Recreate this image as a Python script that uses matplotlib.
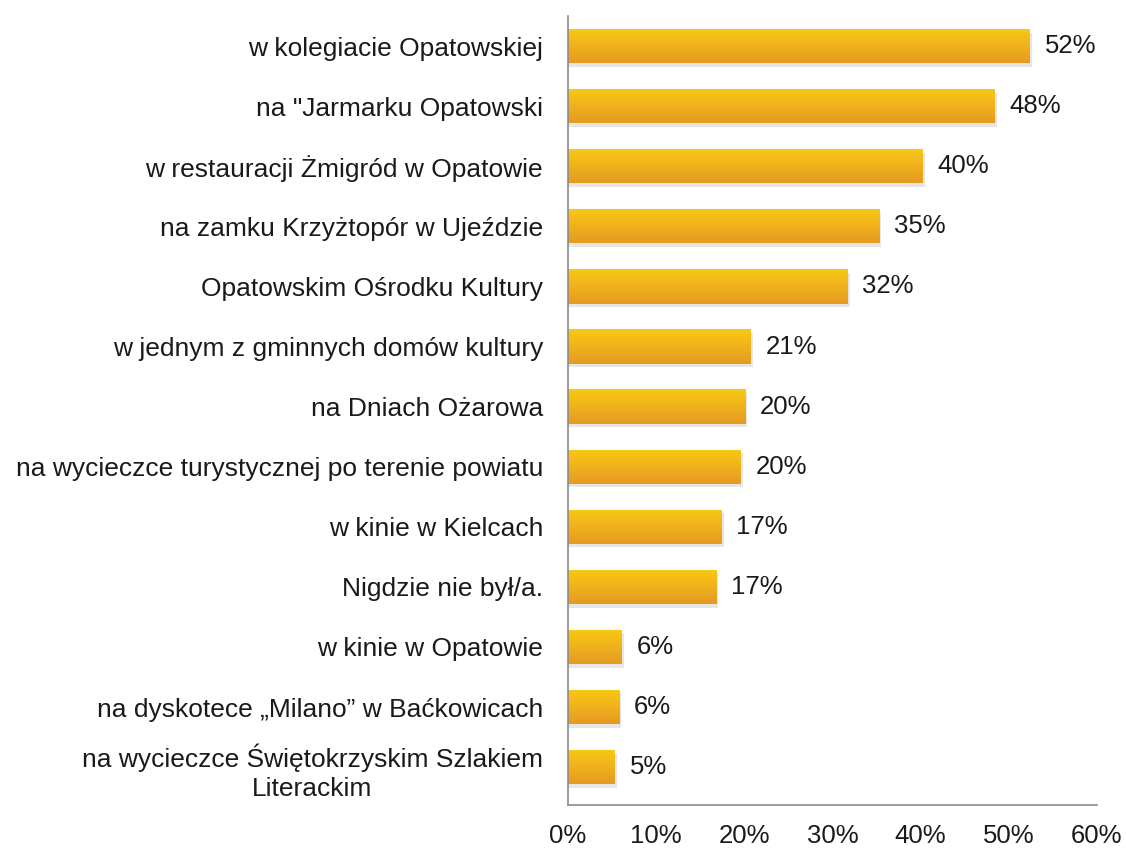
import matplotlib
matplotlib.use("Agg")
import matplotlib.pyplot as plt
import numpy as np
from matplotlib.colors import LinearSegmentedColormap
from matplotlib.patches import Rectangle

plt.rcParams['font.family'] = ['Liberation Sans', 'DejaVu Sans']

# data
places = [
    "w kolegiacie Opatowskiej",
    "na \"Jarmarku Opatowski",
    "w restauracji Żmigród w Opatowie",
    "na zamku Krzyżtopór w Ujeździe",
    "Opatowskim Ośrodku Kultury",
    "w jednym z gminnych domów kultury",
    "na Dniach Ożarowa",
    "na wycieczce turystycznej po terenie powiatu",
    "w kinie w Kielcach",
    "Nigdzie nie był/a.",
    "w kinie w Opatowie",
    "na dyskotece \u201eMilano\u201d w Baćkowicach",
    "na wycieczce Świętokrzyskim Szlakiem\nLiterackim",
]
shares = [52.4, 48.4, 40.2, 35.3, 31.7, 20.7, 20.1, 19.6, 17.4, 16.8, 6.1, 5.8, 5.3]
labels = ["52%", "48%", "40%", "35%", "32%", "21%", "20%", "20%", "17%", "17%", "6%", "6%", "5%"]
ticks = [0, 10, 20, 30, 40, 50, 60]

fig = plt.figure(figsize=(11.26, 8.52), dpi=100)
ax = fig.add_axes([0.5044, 0.0552, 0.4698, 0.926])

grad = LinearSegmentedColormap.from_list("bar", ["#f9c813", "#f0b21c", "#e59a22"])
g = np.linspace(0, 1, 64).reshape(-1, 1)
h = 0.57

for i, (v, lab) in enumerate(zip(shares, labels)):
    # soft shadow
    ax.add_patch(Rectangle((0, i - h / 2 + 0.06), v + 0.25, h, facecolor="#cfcfcf",
                           edgecolor="none", alpha=0.5, zorder=1))
    im = ax.imshow(g, cmap=grad, aspect="auto", extent=(0, v, i + h / 2, i - h / 2),
                   zorder=2, interpolation="bilinear")
    r = Rectangle((0, i - h / 2), v, h, facecolor="none", edgecolor="none")
    ax.add_patch(r)
    im.set_clip_path(r)
    ax.text(v + 1.7, i, lab, va="center", ha="left", fontsize=18.5, color="#1a1a1a")

ax.set_xlim(0, 60)
ax.set_ylim(12.63, -0.5)
ax.set_yticks(range(len(places)))
ax.set_yticklabels(places, fontsize=19, color="#1a1a1a", multialignment="center",
                   linespacing=1.25)
ax.set_xticks(ticks)
ax.set_xticklabels([f"{t}%" for t in ticks], fontsize=18.5, color="#1a1a1a")
ax.tick_params(axis="both", length=0)
ax.tick_params(axis="y", pad=18)
ax.tick_params(axis="x", pad=14)

for s in ["top", "right"]:
    ax.spines[s].set_visible(False)
for s in ["left", "bottom"]:
    ax.spines[s].set_color("#8a8a8a")
    ax.spines[s].set_linewidth(1.2)

fig.savefig("out.png", dpi=100)
